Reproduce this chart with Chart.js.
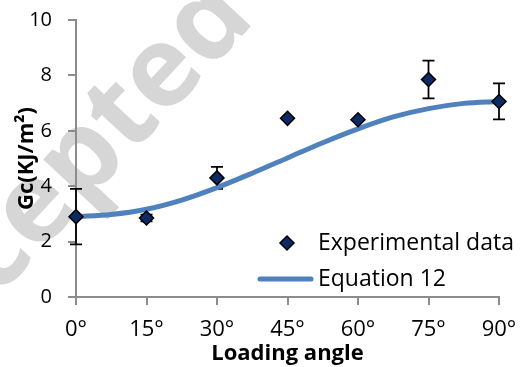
<!DOCTYPE html>
<html>
<head>
<meta charset="utf-8">
<script src="https://cdn.jsdelivr.net/npm/chart.js@4/dist/chart.umd.min.js"></script>
<style>
  html, body { margin: 0; padding: 0; background: #fff; }
  #wrap { width: 520px; height: 367px; }
</style>
</head>
<body>
<div id="wrap"><canvas id="Chart1"></canvas></div>
<script>
// data
const angles = [0, 15, 30, 45, 60, 75, 90];
const gcExp = [2.9, 2.85, 4.3, 6.45, 6.4, 7.85, 7.06];
const gcErr = [1.0, 0.12, 0.4, 0, 0, 0.68, 0.65];
const eqAngles = [0, 7.5, 15, 22.5, 30, 37.5, 45, 52.5, 60, 67.5, 75, 82.5, 90];
const eqGc = [2.9, 2.98, 3.17, 3.5, 3.95, 4.47, 5.02, 5.57, 6.07, 6.5, 6.8, 6.99, 7.06];
const xTickLabels = ['0°', '15°', '30°', '45°', '60°', '75°', '90°'];
const yTickLabels = ['0', '2', '4', '6', '8', '10'];

const axisGray = '#8c8c8c';
const lineBlue = '#4f81bd';
const navy = '#0c2a63';

const watermark = {
    id: 'watermark',
    beforeDraw(chart) {
        const ctx = chart.ctx;
        ctx.save();
        ctx.font = 'bold 112px "Open Sans"';
        ctx.fillStyle = '#d6d6d6';
        const ang = -47 * Math.PI / 180;
        const off = ctx.measureText('Accept').width + ctx.measureText('e').width / 2;
        const ex = 186, ey = 96;
        ctx.translate(ex - off * Math.cos(ang), ey - off * Math.sin(ang));
        ctx.rotate(ang);
        ctx.fillText('Accepted Manuscript', 0, 0);
        ctx.restore();
    }
};

const errorBars = {
    id: 'errorBars',
    beforeDatasetsDraw(chart) {
        const ctx = chart.ctx;
        const x = chart.scales.x, y = chart.scales.y;
        ctx.save();
        ctx.strokeStyle = '#000';
        ctx.lineWidth = 1.75;
        angles.forEach((a, i) => {
            if (!gcErr[i]) return;
            const px = x.getPixelForValue(a);
            const top = y.getPixelForValue(gcExp[i] + gcErr[i]);
            const bot = y.getPixelForValue(gcExp[i] - gcErr[i]);
            ctx.beginPath();
            ctx.moveTo(px, top); ctx.lineTo(px, bot);
            ctx.moveTo(px - 6, top); ctx.lineTo(px + 6, top);
            ctx.moveTo(px - 6, bot); ctx.lineTo(px + 6, bot);
            ctx.stroke();
        });
        ctx.restore();
    }
};

const insideLegend = {
    id: 'insideLegend',
    afterDraw(chart) {
        const ctx = chart.ctx;
        const ds = chart.data.datasets;
        ctx.save();
        ctx.font = '23px "Open Sans"';
        ctx.textBaseline = 'middle';
        // diamond
        ctx.beginPath();
        ctx.moveTo(287, 236); ctx.lineTo(294, 243); ctx.lineTo(287, 250); ctx.lineTo(280, 243);
        ctx.closePath();
        ctx.fillStyle = navy; ctx.fill();
        ctx.lineWidth = 1.5; ctx.strokeStyle = '#000'; ctx.stroke();
        ctx.fillStyle = '#000';
        ctx.fillText(ds[1].label, 318, 243);
        // line sample
        ctx.beginPath();
        ctx.moveTo(260, 279); ctx.lineTo(311, 279);
        ctx.lineWidth = 5; ctx.lineCap = 'round'; ctx.strokeStyle = lineBlue; ctx.stroke();
        ctx.fillText(ds[0].label, 318, 279);
        ctx.restore();
    }
};

new Chart(document.getElementById('Chart1'), {
    type: 'scatter',
    data: {
        datasets: [{
            type: 'line',
            label: 'Equation 12',
            data: eqAngles.map((a, i) => ({ x: a, y: eqGc[i] })),
            borderColor: lineBlue,
            borderWidth: 5,
            borderCapStyle: 'round',
            pointRadius: 0,
            cubicInterpolationMode: 'monotone',
            clip: false,
            order: 1
        }, {
            label: 'Experimental data',
            data: angles.map((a, i) => ({ x: a, y: gcExp[i] })),
            pointStyle: 'rectRot',
            radius: 7,
            backgroundColor: navy,
            borderColor: '#000',
            borderWidth: 1.5,
            clip: false,
            order: 0
        }]
    },
    options: {
        responsive: true,
        maintainAspectRatio: false,
        animation: false,
        events: [],
        layout: { padding: { top: 20, right: 21, left: 0, bottom: 0 } },
        plugins: {
            legend: { display: false },
            tooltip: { enabled: false }
        },
        scales: {
            x: {
                type: 'linear',
                min: 0, max: 90,
                afterFit: (axis) => { axis.height = 70; axis.paddingLeft = 0; axis.paddingRight = 0; },
                afterBuildTicks: (axis) => { axis.ticks = angles.map(v => ({ value: v })); },
                ticks: {
                    callback: (v, i) => xTickLabels[i],
                    font: { family: 'Open Sans', size: 22 },
                    color: '#000',
                    padding: 12,
                    maxRotation: 0
                },
                grid: { drawOnChartArea: false, tickLength: 8, color: axisGray, lineWidth: 2 },
                border: { color: axisGray, width: 2 },
                title: {
                    display: true, text: 'Loading angle', color: '#000',
                    font: { family: 'Open Sans', size: 22, weight: 'bold' },
                    padding: { top: 0, bottom: 0 }
                }
            },
            y: {
                min: 0, max: 10,
                afterFit: (axis) => { axis.width = 76; axis.paddingTop = 0; axis.paddingBottom = 0; },
                ticks: {
                    stepSize: 2,
                    callback: (v, i) => yTickLabels[i],
                    font: { family: 'Open Sans', size: 20 },
                    color: '#000',
                    padding: 16
                },
                grid: { drawOnChartArea: false, tickLength: 8, color: axisGray, lineWidth: 2 },
                border: { color: axisGray, width: 2 },
                title: {
                    display: true, text: 'Gc(KJ/m²)', color: '#000',
                    font: { family: 'Open Sans', size: 22, weight: 'bold' },
                    padding: { top: 14, bottom: 0 }
                }
            }
        }
    },
    plugins: [watermark, errorBars, insideLegend]
});
</script>
</body>
</html>
